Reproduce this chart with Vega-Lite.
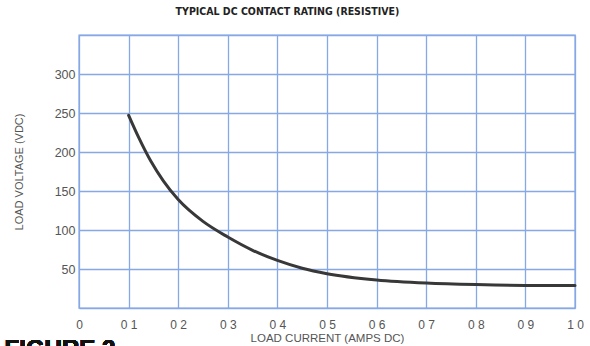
{
  "$schema": "https://vega.github.io/schema/vega-lite/v6.json",
  "width": 496,
  "height": 273,
  "autosize": {"type": "none"},
  "padding": {"left": 79, "top": 35, "right": 15, "bottom": 38},
  "background": "#ffffff",
  "title": {
    "text": "TYPICAL DC CONTACT RATING (RESISTIVE)",
    "anchor": "start",
    "dx": 171,
    "offset": 12,
    "font": "Liberation Sans Narrow, DejaVu Sans Condensed, Liberation Sans",
    "fontSize": 10.5,
    "fontWeight": "bold",
    "color": "#222222"
  },
  "config": {
    "view": {"stroke": "#86a9e6", "strokeWidth": 1.4},
    "axis": {
      "labelFont": "Liberation Sans, Arial",
      "titleFont": "Liberation Sans, Arial",
      "labelColor": "#555555",
      "titleColor": "#555555",
      "gridColor": "#86a9e6",
      "gridWidth": 1.3,
      "gridOpacity": 1,
      "domain": false,
      "ticks": false,
      "titleFontWeight": "normal"
    }
  },
  "resolve": {"axis": {"x": "independent", "y": "independent"}},
  "data": {
    "values": [
      {"current": 0.1, "voltage": 247},
      {"current": 0.12, "voltage": 219},
      {"current": 0.145, "voltage": 188},
      {"current": 0.17, "voltage": 163},
      {"current": 0.2, "voltage": 139},
      {"current": 0.25, "voltage": 111},
      {"current": 0.3, "voltage": 91},
      {"current": 0.35, "voltage": 74},
      {"current": 0.4, "voltage": 61},
      {"current": 0.45, "voltage": 51},
      {"current": 0.5, "voltage": 44},
      {"current": 0.6, "voltage": 36},
      {"current": 0.7, "voltage": 32},
      {"current": 0.8, "voltage": 30},
      {"current": 0.9, "voltage": 29},
      {"current": 1.0, "voltage": 29}
    ]
  },
  "layer": [
    {
      "mark": {"type": "line", "interpolate": "monotone", "color": "#383838", "strokeWidth": 3, "strokeCap": "round"},
      "encoding": {
        "x": {
          "field": "current",
          "type": "quantitative",
          "scale": {"domain": [0, 1], "nice": false},
          "axis": {
            "values": [0, 0.1, 0.2, 0.3, 0.4, 0.5, 0.6, 0.7, 0.8, 0.9, 1.0],
            "labelExpr": "datum.value == 0 ? '0' : replace(format(datum.value, '.1f'), '.', '  ')",
            "labelFontSize": 12,
            "labelPadding": 11,
            "labelFlush": false,
            "labelBound": false,
            "labelOverlap": false,
            "title": "LOAD CURRENT (AMPS DC)",
            "titleFontSize": 11.5,
            "titlePadding": 2,
            "titleX": 248
          }
        },
        "y": {
          "field": "voltage",
          "type": "quantitative",
          "scale": {"domain": [0, 350], "nice": false},
          "axis": {
            "values": [0, 50, 100, 150, 200, 250, 300, 350],
            "labelExpr": "datum.value == 0 || datum.value == 350 ? '' : datum.label",
            "labelFontSize": 12.5,
            "labelPadding": 4,
            "labelOverlap": false,
            "title": "LOAD VOLTAGE (VDC)",
            "titleFontSize": 11,
            "titlePadding": 30
          }
        }
      }
    },
    {
      "mark": {"type": "text", "align": "left", "baseline": "top", "fontSize": 24, "fontWeight": "bold", "font": "Liberation Sans, Arial", "color": "#111111", "clip": false},
      "encoding": {
        "x": {"datum": -0.15, "type": "quantitative", "axis": null},
        "y": {"datum": -39, "type": "quantitative", "axis": null},
        "text": {"value": "FIGURE 2"}
      }
    }
  ]
}
